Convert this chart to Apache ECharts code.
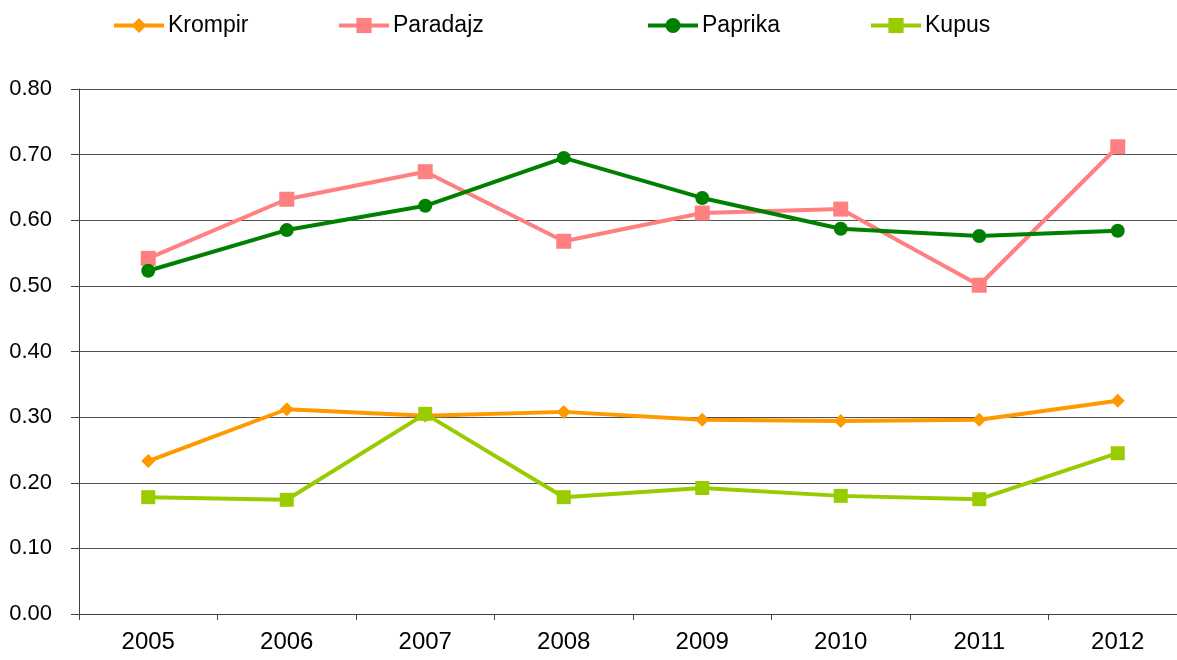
<!DOCTYPE html>
<html>
<head>
<meta charset="utf-8">
<script src="https://cdn.jsdelivr.net/npm/echarts@6/dist/echarts.min.js"></script>
<style>
  html, body { margin: 0; padding: 0; background: #fff; overflow: hidden; }
  /* plot area runs a little past the right edge, as in the reference */
  #chart { width: 1187px; height: 660px; }
</style>
</head>
<body>
<div id="chart"></div>
<script>
  // data
  var years = ["2005", "2006", "2007", "2008", "2009", "2010", "2011", "2012"];
  var krompir = [0.233, 0.312, 0.302, 0.308, 0.296, 0.294, 0.296, 0.325];
  var paradajz = [0.542, 0.632, 0.674, 0.568, 0.611, 0.617, 0.501, 0.712];
  var paprika = [0.523, 0.585, 0.622, 0.695, 0.634, 0.587, 0.576, 0.584];
  var kupus = [0.178, 0.174, 0.305, 0.178, 0.192, 0.180, 0.175, 0.245];

  var font = "Liberation Sans, Arial, sans-serif";

  function legendAt(name, left) {
    return {
      data: [name],
      left: left,
      top: 14,
      padding: 0,
      itemWidth: 50,
      itemHeight: 19,
      itemGap: 4,
      lineStyle: { width: 4 },
      textStyle: { fontFamily: font, fontSize: 23, color: "#000", padding: [0, 0, 0, -1] }
    };
  }

  function mkSeries(name, data, color, symbol, size) {
    return {
      name: name,
      type: "line",
      data: data,
      symbol: symbol,
      symbolSize: size,
      lineStyle: { color: color, width: 4 },
      itemStyle: { color: color },
      emphasis: { disabled: true },
      animation: false
    };
  }

  var chart = echarts.init(document.getElementById("chart"));
  chart.setOption({
    backgroundColor: "#fff",
    legend: [
      legendAt("Krompir", 112),
      legendAt("Paradajz", 337),
      legendAt("Paprika", 646),
      legendAt("Kupus", 869)
    ],
    grid: { left: 79, right: 0, top: 89, bottom: 46 },
    xAxis: {
      type: "category",
      data: years,
      boundaryGap: true,
      axisLine: { lineStyle: { color: "#404040", width: 1 } },
      axisTick: { show: true, length: 6, lineStyle: { color: "#404040" } },
      axisLabel: { fontFamily: font, fontSize: 24, color: "#000", margin: 16 }
    },
    yAxis: {
      type: "value",
      min: 0,
      max: 0.8,
      interval: 0.1,
      axisLine: { show: true, lineStyle: { color: "#404040", width: 1 } },
      axisTick: { show: true, length: 8, lineStyle: { color: "#404040" } },
      axisLabel: {
        fontFamily: font, fontSize: 22, color: "#000", margin: 27,
        formatter: function (v) { return v.toFixed(2); }
      },
      splitLine: { lineStyle: { color: "#505050", width: 1 } }
    },
    series: [
      mkSeries("Krompir", krompir, "#FF9900", "diamond", 14),
      mkSeries("Paradajz", paradajz, "#FF8080", "rect", 15),
      mkSeries("Paprika", paprika, "#008000", "circle", 14),
      mkSeries("Kupus", kupus, "#99CC00", "rect", 14)
    ]
  });
</script>
</body>
</html>
